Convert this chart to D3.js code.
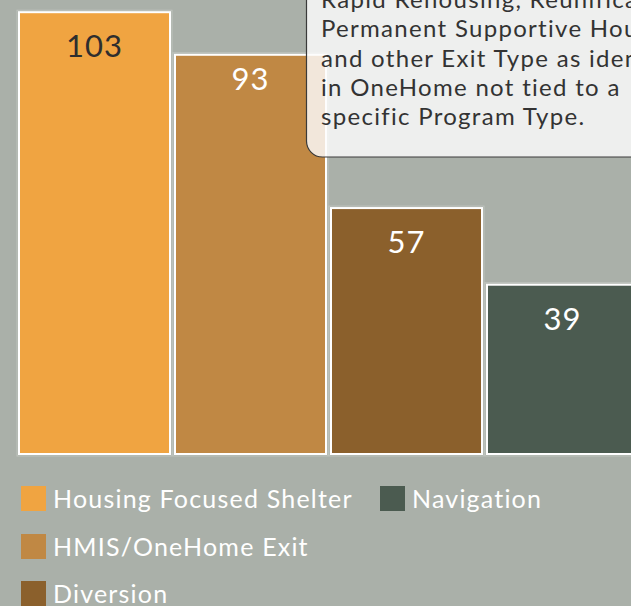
<!DOCTYPE html>
<html>
<head>
<meta charset="utf-8">
<script src="https://cdn.jsdelivr.net/npm/d3@7/dist/d3.min.js"></script>
<style>
  html, body { margin: 0; padding: 0; background: #aab0a9; overflow: hidden; }
  svg { display: block; font-family: Lato, "Open Sans", sans-serif; }
</style>
</head>
<body>
<svg id="chart" width="631" height="606"></svg>
<script>
// Exits by program type
const categories = ["Housing Focused Shelter", "HMIS/OneHome Exit", "Diversion", "Navigation"];
const values = [103, 93, 57, 39];
const colors = ["#f0a441", "#c08844", "#8b602c", "#4b5b50"];
const labelColors = ["#2e2e2e", "#ffffff", "#ffffff", "#ffffff"];
const noteLines = [
  "Rapid Rehousing, Reunification,",
  "Permanent Supportive Housing,",
  "and other Exit Type as identified",
  "in OneHome not tied to a",
  "specific Program Type."
];
// legend layout: column index and row index per category
const legendCol = [0, 0, 0, 1];
const legendRow = [0, 1, 2, 0];

const svg = d3.select("#chart");
const W = 631, H = 606;

svg.append("rect").attr("width", W).attr("height", H).attr("fill", "#aab0a9");

const x = d3.scaleBand()
  .domain(categories)
  .range([18, 18 + 4 * 156 - 3])
  .paddingInner(3 / 156)
  .paddingOuter(0);

const y = d3.scaleLinear().domain([0, 103]).range([449.8, 11.2]);
const baseY = 455;

const g = svg.append("g");

// faint halo around each bar
g.selectAll("rect.halo").data(categories).join("rect")
  .attr("class", "halo")
  .attr("x", d => x(d) - 1)
  .attr("y", (d, i) => y(values[i]) - 1)
  .attr("width", x.bandwidth() + 2)
  .attr("height", (d, i) => baseY - y(values[i]) + 2)
  .attr("fill", "none")
  .attr("stroke", "rgba(255,255,255,0.25)")
  .attr("stroke-width", 1);

g.selectAll("rect.bar").data(categories).join("rect")
  .attr("class", "bar")
  .attr("x", d => x(d) + 1)
  .attr("y", (d, i) => y(values[i]) + 1)
  .attr("width", x.bandwidth() - 2)
  .attr("height", (d, i) => baseY - y(values[i]) - 2)
  .attr("fill", (d, i) => colors[i])
  .attr("stroke", "#ffffff")
  .attr("stroke-width", 2);

const labelShift = { "HMIS/OneHome Exit": -10 };
g.selectAll("text.val").data(categories).join("text")
  .attr("class", "val")
  .attr("x", d => x(d) + x.bandwidth() / 2)
  .attr("y", (d, i) => y(values[i]) + 46 + (labelShift[d] || 0))
  .attr("text-anchor", "middle")
  .attr("font-size", 31)
  .attr("letter-spacing", 1)
  .attr("fill", (d, i) => labelColors[i])
  .text((d, i) => values[i]);

// legend
const leg = svg.append("g");
const colX = [21, 380];
const rowY = [486, 534, 581];
const items = leg.selectAll("g").data(categories).join("g")
  .attr("transform", (d, i) => `translate(${colX[legendCol[i]]},${rowY[legendRow[i]]})`);
items.append("rect")
  .attr("width", 25).attr("height", 25)
  .attr("fill", (d, i) => colors[i]);
items.append("text")
  .attr("x", 32).attr("y", 12.5)
  .attr("dy", "0.36em")
  .attr("font-size", 25)
  .attr("letter-spacing", 1.2)
  .attr("fill", "#ffffff")
  .text(d => d);

// hover note
const note = svg.append("g");
note.append("rect")
  .attr("x", 306.5).attr("y", -60)
  .attr("width", 420).attr("height", 217)
  .attr("rx", 16).attr("ry", 16)
  .attr("fill", "rgba(253,253,253,0.82)")
  .attr("stroke", "#3a3a3a")
  .attr("stroke-width", 1.2);
note.selectAll("text").data(noteLines).join("text")
  .attr("x", 321)
  .attr("y", (d, i) => 8 + i * 29.3)
  .attr("font-size", 24)
  .attr("letter-spacing", 1.3)
  .attr("fill", "#333333")
  .text(d => d);
</script>
</body>
</html>
